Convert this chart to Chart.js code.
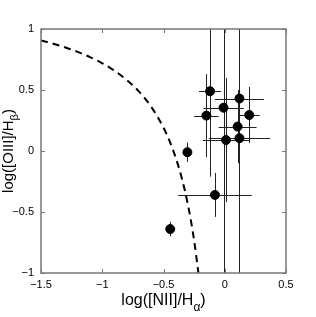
<!DOCTYPE html>
<html>
<head>
<meta charset="utf-8">
<script src="https://cdn.jsdelivr.net/npm/chart.js@4.4.0/dist/chart.umd.min.js"></script>
<style>
  html, body { margin: 0; padding: 0; background: #fff; }
  #chart { display: block; }
</style>
</head>
<body>
<canvas id="chart" width="316" height="317"></canvas>
<script>
// galaxies: log([NII]/Ha) vs log([OIII]/Hb), with 1-sigma errors
const nii     = [-0.12, 0.12, -0.01, -0.15, 0.20, 0.105, 0.01, 0.12, -0.305, -0.08, -0.445];
const oiii    = [0.49, 0.43, 0.355, 0.29, 0.295, 0.20, 0.09, 0.105, -0.01, -0.36, -0.64];
const niiErr  = [0.09, 0.20, 0.165, 0.10, 0.085, 0.155, 0.19, 0.25, 0, 0.30, 0];
const oiiiErr = [0.70, 1.6, 1.6, 0.34, 0.23, 0.30, 0.51, 0.5, 0.08, 0.18, 0.06];

// dashed demarcation curve
const curveX = [-1.5, -1.4, -1.3, -1.2, -1.1, -1.0, -0.9, -0.8, -0.7, -0.6, -0.5, -0.45, -0.4, -0.35, -0.3, -0.25, -0.215];
const curveY = [0.906, 0.879, 0.848, 0.812, 0.770, 0.719, 0.658, 0.582, 0.487, 0.362, 0.191, 0.08, -0.056, -0.225, -0.443, -0.733, -1.0];

const xTicks = [-1.5, -1, -0.5, 0, 0.5];
const yTicks = [-1, -0.5, 0, 0.5, 1];
const xTickLabels = ['\u22121.5', '\u22121', '\u22120.5', '0', '0.5'];
const yTickLabels = ['\u22121', '\u22120.5', '0', '0.5', '1'];

const FONT = "'Liberation Sans', Arial, Helvetica, sans-serif";

let pts = [];
for (let i = 0; i < nii.length; i++) pts.push({x: nii[i], y: oiii[i]});
let curve = [];
for (let i = 0; i < curveX.length; i++) curve.push({x: curveX[i], y: curveY[i]});

// error bars, drawn under the points
const errorBars = {
    id: 'errorBars',
    beforeDatasetsDraw(chart) {
        const ctx = chart.ctx, a = chart.chartArea;
        const xs = chart.scales.x, ys = chart.scales.y;
        ctx.save();
        ctx.beginPath();
        ctx.rect(a.left, a.top, a.right - a.left, a.bottom - a.top);
        ctx.clip();
        ctx.strokeStyle = '#222';
        ctx.lineWidth = 1;
        for (let i = 0; i < nii.length; i++) {
            const px = Math.round(xs.getPixelForValue(nii[i])) + 0.5;
            const py = Math.round(ys.getPixelForValue(oiii[i])) + 0.5;
            ctx.beginPath();
            if (oiiiErr[i] > 0) {
                ctx.moveTo(px, ys.getPixelForValue(oiii[i] + oiiiErr[i]));
                ctx.lineTo(px, ys.getPixelForValue(oiii[i] - oiiiErr[i]));
            }
            if (niiErr[i] > 0) {
                ctx.moveTo(xs.getPixelForValue(nii[i] - niiErr[i]), py);
                ctx.lineTo(xs.getPixelForValue(nii[i] + niiErr[i]), py);
            }
            ctx.stroke();
        }
        ctx.restore();
    }
};

// matlab style box, inward ticks and axis titles with subscripts
const frame = {
    id: 'frame',
    afterDraw(chart) {
        const ctx = chart.ctx, a = chart.chartArea;
        const xs = chart.scales.x, ys = chart.scales.y;
        const tl = 4;
        ctx.save();
        ctx.strokeStyle = '#777';
        ctx.lineWidth = 1.5;
        ctx.strokeRect(a.left, a.top, a.right - a.left, a.bottom - a.top);
        ctx.lineWidth = 1;
        ctx.beginPath();
        for (const t of xTicks) {
            const p = Math.round(xs.getPixelForValue(t)) + 0.5;
            ctx.moveTo(p, a.bottom); ctx.lineTo(p, a.bottom - tl);
            ctx.moveTo(p, a.top); ctx.lineTo(p, a.top + tl);
        }
        for (const t of yTicks) {
            const p = Math.round(ys.getPixelForValue(t)) + 0.5;
            ctx.moveTo(a.left, p); ctx.lineTo(a.left + tl, p);
            ctx.moveTo(a.right, p); ctx.lineTo(a.right - tl, p);
        }
        ctx.stroke();

        ctx.fillStyle = '#000';
        ctx.textBaseline = 'alphabetic';
        ctx.textAlign = 'left';

        // x title
        let big = '16px ' + FONT, small = '12px ' + FONT;
        ctx.font = big;
        let w1 = ctx.measureText('log([NII]/H').width, w3 = ctx.measureText(')').width;
        ctx.font = small;
        let w2 = ctx.measureText('\u03b1').width;
        let x0 = (a.left + a.right) / 2 - (w1 + w2 + w3) / 2;
        let by = 305;
        ctx.font = big;
        ctx.fillText('log([NII]/H', x0, by);
        ctx.font = small;
        ctx.fillText('\u03b1', x0 + w1, by + 6);
        ctx.font = big;
        ctx.fillText(')', x0 + w1 + w2, by);

        // y title, rotated
        big = '15px ' + FONT; small = '11px ' + FONT;
        ctx.translate(12.5, (a.top + a.bottom) / 2);
        ctx.rotate(-Math.PI / 2);
        ctx.font = big;
        w1 = ctx.measureText('log([OIII]/H').width;
        w3 = ctx.measureText(')').width;
        ctx.font = small;
        w2 = ctx.measureText('\u03b2').width;
        x0 = -(w1 + w2 + w3) / 2;
        ctx.font = big;
        ctx.fillText('log([OIII]/H', x0, 0);
        ctx.font = small;
        ctx.fillText('\u03b2', x0 + w1, 5);
        ctx.font = big;
        ctx.fillText(')', x0 + w1 + w2, 0);
        ctx.restore();
    }
};

var ctx = document.getElementById('chart').getContext('2d');
var chart = new Chart(ctx, {
    type: 'scatter',
    data: {
        datasets: [
            {
                label: 'curve',
                data: curve,
                showLine: true,
                fill: false,
                borderColor: '#000',
                borderWidth: 2,
                borderDash: [7, 5],
                pointRadius: 0,
                cubicInterpolationMode: 'monotone'
            },
            {
                label: 'galaxies',
                data: pts,
                backgroundColor: '#000',
                borderColor: '#000',
                borderWidth: 1,
                pointRadius: 4.5
            }
        ]
    },
    options: {
        responsive: false,
        animation: false,
        devicePixelRatio: 1,
        layout: { padding: { top: 29, right: 30, left: 0, bottom: 0 } },
        plugins: { legend: { display: false }, tooltip: { enabled: false } },
        scales: {
            x: {
                type: 'linear',
                min: -1.5, max: 0.5,
                afterFit: (s) => { s.height = 44; },
                afterBuildTicks: (s) => { s.ticks = xTicks.map(v => ({value: v})); },
                grid: { display: false, drawTicks: false },
                border: { display: false },
                ticks: {
                    padding: 5,
                    color: '#000',
                    font: { family: FONT, size: 11 },
                    maxRotation: 0,
                    callback: (v) => xTickLabels[xTicks.indexOf(v)]
                }
            },
            y: {
                type: 'linear',
                min: -1, max: 1,
                afterFit: (s) => { s.width = 41; },
                afterBuildTicks: (s) => { s.ticks = yTicks.map(v => ({value: v})); },
                grid: { display: false, drawTicks: false },
                border: { display: false },
                ticks: {
                    padding: 7,
                    color: '#000',
                    font: { family: FONT, size: 11 },
                    callback: (v) => yTickLabels[yTicks.indexOf(v)]
                }
            }
        }
    },
    plugins: [errorBars, frame]
});
</script>
</body>
</html>
